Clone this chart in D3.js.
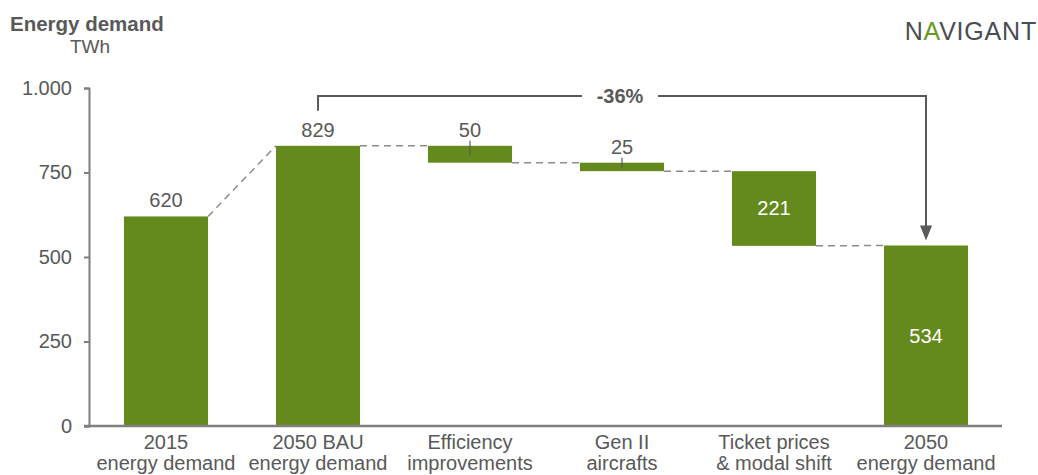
<!DOCTYPE html>
<html>
<head>
<meta charset="utf-8">
<script src="https://cdn.jsdelivr.net/npm/d3@7"></script>
<style>
  html, body { margin: 0; padding: 0; background: #fff; }
  svg { display: block; font-family: "Liberation Sans", Arial, sans-serif; }
</style>
</head>
<body>
<svg id="chart" width="1038" height="475"></svg>
<script>
// ---- data ----
const categories = [
  ["2015", "energy demand"],
  ["2050 BAU", "energy demand"],
  ["Efficiency", "improvements"],
  ["Gen II", "aircrafts"],
  ["Ticket prices", "& modal shift"],
  ["2050", "energy demand"]
];
const kinds = ["total", "total", "delta", "delta", "delta", "total"];
const values = [620, 829, -50, -25, -221, 534];
const labelPos = ["above", "above", "above", "above", "inside", "inside"];
const yTicks = [0, 250, 500, 750, 1000];
const changeLabel = "-36%";
const title = "Energy demand";
const unit = "TWh";

// ---- build waterfall steps ----
const keys = categories.map(c => c.join(" "));
let running = 0;
const steps = values.map((v, i) => {
  let start, end;
  if (kinds[i] === "total") { start = 0; end = v; running = v; }
  else { start = running; end = running + v; running = end; }
  return { key: keys[i], label: categories[i], kind: kinds[i], value: v, start, end,
           lo: Math.min(start, end), hi: Math.max(start, end), pos: labelPos[i] };
});

const svg = d3.select("#chart");
const green = "#648a1e";
const textCol = "#595959";
const axisCol = "#7f7f7f";

const x = d3.scaleBand().domain(keys).range([89, 1003]).paddingInner(0.447).paddingOuter(0.23);
const y = d3.scaleLinear().domain([0, 1000]).range([426, 88]);
const loc = d3.formatLocale({ decimal: ",", thousands: ".", grouping: [3], currency: ["", "€"] });
const fmt = loc.format(",");

// title
svg.append("text").attr("x", 10).attr("y", 31).attr("font-size", 20.5).attr("font-weight", "bold")
  .attr("fill", textCol).text(title);
svg.append("text").attr("x", 70).attr("y", 53).attr("font-size", 19)
  .attr("fill", textCol).text(unit);

// logo
const logo = svg.append("text").attr("x", 1037).attr("y", 40).attr("text-anchor", "end")
  .attr("font-size", 25).attr("fill", "#4a4d52").attr("letter-spacing", 0.8);
logo.append("tspan").text("N");
logo.append("tspan").attr("fill", "#6a9a1f").text("A");
logo.append("tspan").text("VIGANT");

// y axis
const yAxis = svg.append("g").attr("transform", "translate(89,0)")
  .call(d3.axisLeft(y).tickValues(yTicks).tickFormat(fmt).tickSize(5).tickPadding(12));
yAxis.select(".domain").attr("stroke", axisCol).attr("stroke-width", 2);
yAxis.selectAll(".tick line").attr("stroke", axisCol).attr("stroke-width", 2);
yAxis.selectAll(".tick text").attr("font-size", 20).attr("fill", textCol)
  .attr("font-family", "Liberation Sans, Arial, sans-serif");

// bars
const bw = x.bandwidth();
svg.append("g").selectAll("rect").data(steps).join("rect")
  .attr("x", d => x(d.key)).attr("width", bw)
  .attr("y", d => y(d.hi)).attr("height", d => y(d.lo) - y(d.hi))
  .attr("fill", green);

// x axis baseline
svg.append("line").attr("x1", 84).attr("x2", 1002).attr("y1", y(0)).attr("y2", y(0))
  .attr("stroke", axisCol).attr("stroke-width", 2.5);

// connectors
for (let i = 0; i < steps.length - 1; i++) {
  const a = steps[i], b = steps[i + 1];
  const yA = a.end;
  const yB = b.kind === "total" ? b.end : b.start;
  svg.append("line")
    .attr("x1", x(a.key) + bw).attr("y1", y(yA))
    .attr("x2", x(b.key)).attr("y2", y(yB))
    .attr("stroke", "#8c8c8c").attr("stroke-width", 1.5).attr("stroke-dasharray", "7,5");
}

// value labels
steps.forEach(d => {
  const cx = x(d.key) + bw / 2;
  if (d.pos === "inside") {
    svg.append("text").attr("x", cx).attr("y", y((d.lo + d.hi) / 2) + 7)
      .attr("text-anchor", "middle").attr("font-size", 20).attr("fill", "#fff")
      .text(Math.abs(d.value));
  } else {
    const top = y(d.hi);
    svg.append("text").attr("x", cx).attr("y", top - 9)
      .attr("text-anchor", "middle").attr("font-size", 20).attr("fill", textCol)
      .text(Math.abs(d.value));
    if (d.kind === "delta") {
      svg.append("line").attr("x1", cx).attr("x2", cx)
        .attr("y1", top - 5).attr("y2", y((d.lo + d.hi) / 2) + 1)
        .attr("stroke", textCol).attr("stroke-width", 1.2);
    }
  }
});

// x labels
categories.forEach((c, i) => {
  const cx = x(keys[i]) + bw / 2;
  const t = svg.append("text").attr("x", cx).attr("y", 449).attr("text-anchor", "middle")
    .attr("font-size", 20).attr("fill", textCol);
  t.append("tspan").attr("x", cx).text(c[0]);
  t.append("tspan").attr("x", cx).attr("dy", 21).text(c[1]);
});

// bracket
const xL = x(keys[1]) + bw / 2, xR = x(keys[5]) + bw / 2;
const yTop = 96;
const labelX = 620;
const gapHalf = 38;
const br = svg.append("g").attr("stroke", "#595959").attr("stroke-width", 2).attr("fill", "none");
br.append("path").attr("d", `M${xL},${y(829) - 35} V${yTop} H${labelX - gapHalf}`);
br.append("path").attr("d", `M${labelX + gapHalf},${yTop} H${xR} V${y(534) - 18}`);
svg.append("path")
  .attr("d", `M${xR - 6},${y(534) - 20} L${xR + 6},${y(534) - 20} L${xR},${y(534) - 5} Z`)
  .attr("fill", "#595959");
svg.append("text").attr("x", labelX).attr("y", yTop + 7).attr("text-anchor", "middle")
  .attr("font-size", 20).attr("font-weight", "bold").attr("fill", textCol).text(changeLabel);
</script>
</body>
</html>
